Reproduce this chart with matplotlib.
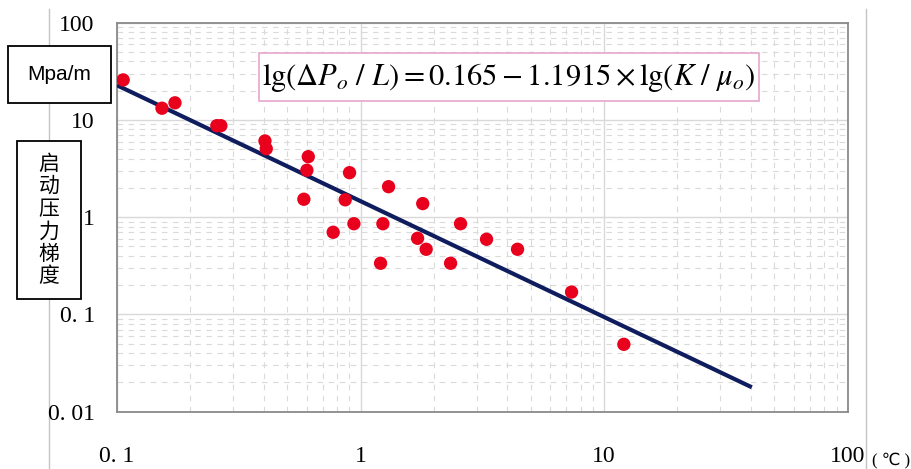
import numpy as np
import matplotlib
matplotlib.use("Agg")
import matplotlib.pyplot as plt
from matplotlib.patches import Rectangle
from matplotlib.lines import Line2D
from matplotlib.ticker import LogLocator, NullFormatter

plt.rcParams['mathtext.fontset'] = 'stix'

# Measured points: mobility ratio K/mu_o vs. threshold pressure gradient (MPa/m)
k_over_mu = [0.106, 0.153, 0.173, 0.257, 0.267, 0.405, 0.410, 0.610, 0.602, 0.585,
             0.901, 0.865, 1.303, 0.772, 0.939, 1.235, 1.80, 1.208, 1.714, 1.859,
             2.573, 2.342, 3.29, 4.41, 7.35, 12.05]
gradient = [25.8, 13.2, 15.0, 8.73, 8.73, 6.08, 5.06, 4.19, 3.04, 1.53,
            2.87, 1.51, 2.06, 0.70, 0.857, 0.857, 1.38, 0.336, 0.607, 0.468,
            0.857, 0.336, 0.593, 0.468, 0.170, 0.0493]

# Power-law fit: lg(dP/L) = a + b * lg(K/mu)
fit_a = 0.165
fit_b = -1.1915
fit_range = [0.1, 40.4]

x_ticks = [0.1, 1, 10, 100]
x_tick_labels = ["0. 1", "1", "10", "100"]
y_ticks = [0.01, 0.1, 1, 10, 100]
y_tick_labels = ["0. 01", "0. 1", "1", "10", "100"]

W, H = 911, 469
fig = plt.figure(figsize=(W / 100, H / 100), dpi=100)
ax = fig.add_axes([117 / W, 1 - 411.7 / H, (847.7 - 117) / W, (411.7 - 22.7) / H])

ax.set_xscale('log')
ax.set_yscale('log')
ax.set_xlim(0.1, 100)
ax.set_ylim(0.01, 100)

# grid
ax.xaxis.set_minor_locator(LogLocator(base=10, subs=np.arange(2, 10), numticks=20))
ax.yaxis.set_minor_locator(LogLocator(base=10, subs=np.arange(2, 10), numticks=20))
ax.xaxis.set_minor_formatter(NullFormatter())
ax.yaxis.set_minor_formatter(NullFormatter())
ax.grid(True, which='major', color='#d9d9d9', linewidth=1.0, linestyle='-')
ax.grid(True, which='minor', color='#dadada', linewidth=0.8, linestyle=(0, (5, 5)))
ax.set_axisbelow(True)

ax.set_xticks(x_ticks)
ax.set_xticklabels(x_tick_labels)
ax.set_yticks(y_ticks)
ax.set_yticklabels(y_tick_labels)
ax.tick_params(which='both', length=0)
ax.tick_params(axis='x', pad=25, labelsize=17)
ax.tick_params(axis='y', pad=16, labelsize=17)
for lab in ax.get_xticklabels() + ax.get_yticklabels():
    lab.set_fontfamily('Liberation Serif')

for s in ax.spines.values():
    s.set_color('#8a8a8a')
    s.set_linewidth(1.3)

# fitted line
xf = np.logspace(np.log10(fit_range[0]), np.log10(fit_range[1]), 200)
yf = 10 ** (fit_a + fit_b * np.log10(xf))
ax.plot(xf, yf, color='#0f1d5e', linewidth=3.0, zorder=3, solid_capstyle='butt')

# measurements
ax.scatter(k_over_mu, gradient, s=92, color='#e8001c', edgecolors='none', zorder=4)

# equation box
fig.patches.append(Rectangle((259 / W, 1 - 101 / H), 500 / W, 48 / H,
                             transform=fig.transFigure, facecolor='white',
                             edgecolor='#e8a6cc', linewidth=1.2, zorder=5))
fig.text(509 / W, 1 - 77 / H,
         r'$\mathrm{lg}(\Delta P_o\ /\ L) = 0.165 - 1.1915 \times \mathrm{lg}(K\ /\ \mu_o)$',
         ha='center', va='center', fontsize=22, zorder=6)

# outer frame lines
fig.add_artist(Line2D([49 / W, 49 / W], [0, 1 - 9 / H], transform=fig.transFigure,
                      color='#c4c4c4', linewidth=1.0, zorder=0))
fig.add_artist(Line2D([866 / W, 866 / W], [0, 1 - 9 / H], transform=fig.transFigure,
                      color='#c4c4c4', linewidth=1.0, zorder=0))

# unit box
fig.patches.append(Rectangle((8 / W, 1 - 103 / H), 103 / W, 57 / H,
                             transform=fig.transFigure, facecolor='white',
                             edgecolor='black', linewidth=1.3, zorder=5))
fig.text(59.5 / W, 1 - 74.5 / H, 'Mpa/m', ha='center', va='center',
         fontsize=15, family='Liberation Sans', zorder=6)

# vertical axis title box
fig.patches.append(Rectangle((17 / W, 1 - 299 / H), 64 / W, 158 / H,
                             transform=fig.transFigure, facecolor='white',
                             edgecolor='black', linewidth=1.3, zorder=5))
title_chars = "启动压力梯度"
for i, ch in enumerate(title_chars):
    fig.text(49 / W, 1 - (163.5 + i * 22.6) / H, ch, ha='center', va='center',
             fontsize=15, family=['Noto Sans CJK SC', 'DejaVu Sans'], zorder=6)

# x unit
fig.text(891 / W, 1 - 461 / H, '( ℃ )', ha='center', va='center', fontsize=12,
         family=['Liberation Serif', 'DejaVu Sans'])

fig.savefig('out.png', dpi=100)
